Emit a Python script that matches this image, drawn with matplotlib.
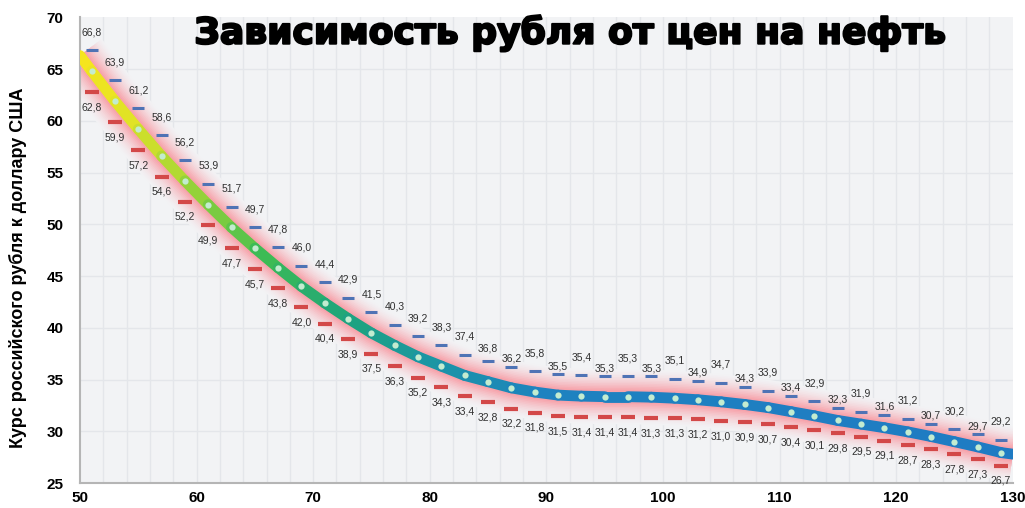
import numpy as np
import matplotlib.pyplot as plt
from matplotlib.collections import LineCollection
from matplotlib.colors import LinearSegmentedColormap, to_rgb
import matplotlib.patheffects as pe

# цена нефти (долл./барр.) и коридор курса рубля
oil_price = np.arange(51, 130, 2)
rub_upper = [66.8, 63.9, 61.2, 58.6, 56.2, 53.9, 51.7, 49.7, 47.8, 46.0,
             44.4, 42.9, 41.5, 40.3, 39.2, 38.3, 37.4, 36.8, 36.2, 35.8,
             35.5, 35.4, 35.3, 35.3, 35.3, 35.1, 34.9, 34.7, 34.3, 33.9,
             33.4, 32.9, 32.3, 31.9, 31.6, 31.2, 30.7, 30.2, 29.7, 29.2]
rub_lower = [62.8, 59.9, 57.2, 54.6, 52.2, 49.9, 47.7, 45.7, 43.8, 42.0,
             40.4, 38.9, 37.5, 36.3, 35.2, 34.3, 33.4, 32.8, 32.2, 31.8,
             31.5, 31.4, 31.4, 31.4, 31.3, 31.3, 31.2, 31.0, 30.9, 30.7,
             30.4, 30.1, 29.8, 29.5, 29.1, 28.7, 28.3, 27.8, 27.3, 26.7]
# концы линии тренда на краях оси
trend_start = (50, 66.3)
trend_end = (130, 27.8)

x_ticks = [50, 60, 70, 80, 90, 100, 110, 120, 130]
y_ticks = [25, 30, 35, 40, 45, 50, 55, 60, 65, 70]

title = 'Зависимость рубля от цен на нефть'
ylabel = 'Курс российского рубля к доллару США'

def fmt(v):
    return ('%.1f' % v).replace('.', ',')

upper = np.array(rub_upper)
lower = np.array(rub_lower)
mid = (upper + lower) / 2
tx = np.concatenate([[trend_start[0]], oil_price, [trend_end[0]]])
ty = np.concatenate([[trend_start[1]], mid, [trend_end[1]]])

bg = '#f2f3f5'
fig = plt.figure(figsize=(10.25, 5.08), dpi=100)
ax = fig.add_axes([0.078, 0.049, 0.91, 0.917])
ax.set_facecolor(bg)
ax.set_xlim(50, 130)
ax.set_ylim(25, 70)

# сетка
for gx in range(52, 130, 2):
    ax.axvline(gx, color='#e4e6ea', lw=1, zorder=0)
for gy in y_ticks[1:-1]:
    ax.axhline(gy, color='#e4e6ea', lw=1, zorder=0)

# розовое свечение вокруг линии (непрозрачные слои)
c0 = np.array(to_rgb(bg))
c1 = np.array(to_rgb('#f7a3ab'))
n = 14
for k in range(n):
    t = (k + 1) / n
    w = 42 - 32 * t
    col = c0 + (c1 - c0) * t ** 1.6
    ax.plot(tx, ty, color=col, lw=w, solid_capstyle='butt',
            solid_joinstyle='round', zorder=1)

# градиентная линия
cmap = LinearSegmentedColormap.from_list('trend', [
    (0.0, '#f7e51c'), (0.06, '#dbe228'), (0.13, '#8fd13a'),
    (0.2, '#3dbb55'), (0.28, '#1fa57a'), (0.38, '#1b95a5'),
    (0.5, '#1e82c0'), (1.0, '#1f7bc3')])
pts = np.column_stack([tx, ty]).reshape(-1, 1, 2)
segs = np.concatenate([pts[:-1], pts[1:]], axis=1)
cvals = ((tx[:-1] + tx[1:]) / 2 - 50) / 80
lc = LineCollection(segs, colors=cmap(cvals), linewidths=7.8,
                    capstyle='round', joinstyle='round', zorder=3)
ax.add_collection(lc)
ax.plot(oil_price, mid, 'o', ms=4.5, color='#c3ecd0', mec='none', zorder=4)

# верхние и нижние отметки
ax.plot(oil_price, upper, '_', ms=9, mew=2.2, color='#4f73b5', zorder=4)
ax.plot(oil_price, lower, '_', ms=10, mew=3, color='#d34848', zorder=4)

for i, (x, u, l) in enumerate(zip(oil_price, upper, lower)):
    if i == 17:
        off = 9
    elif i >= 18 and i % 2 == 0:
        off = 6
    else:
        off = 13
    ax.annotate(fmt(u), (x, u), xytext=(0, off), textcoords='offset points',
                ha='center', va='center', fontsize=7.5, color='#303030',
                family='Liberation Sans', zorder=5)
    ax.annotate(fmt(l), (x, l), xytext=(0, -11), textcoords='offset points',
                ha='center', va='center', fontsize=7.5, color='#303030',
                family='Liberation Sans', zorder=5)

ax.set_xticks(x_ticks)
ax.set_yticks(y_ticks)
for lab in ax.get_xticklabels() + ax.get_yticklabels():
    lab.set_fontweight('bold')
    lab.set_fontsize(11)
    lab.set_family('Liberation Sans')
ax.tick_params(axis='x', length=0, pad=6)
ax.tick_params(axis='y', length=0, pad=12)

for s in ['top', 'right']:
    ax.spines[s].set_visible(False)
for s in ['left', 'bottom']:
    ax.spines[s].set_color('#b5b5b5')
    ax.spines[s].set_linewidth(1.5)

fig.text(0.018, 0.472, ylabel, rotation=90, ha='center', va='center',
         fontsize=13, fontweight='bold', family='Liberation Sans')

fig.text(0.556, 0.935, title, ha='center', va='center', fontsize=26,
         fontweight='bold', family='DejaVu Sans', color='black',
         path_effects=[pe.withStroke(linewidth=1.5, foreground='black')])

fig.savefig('out.png', dpi=100, facecolor='white')
